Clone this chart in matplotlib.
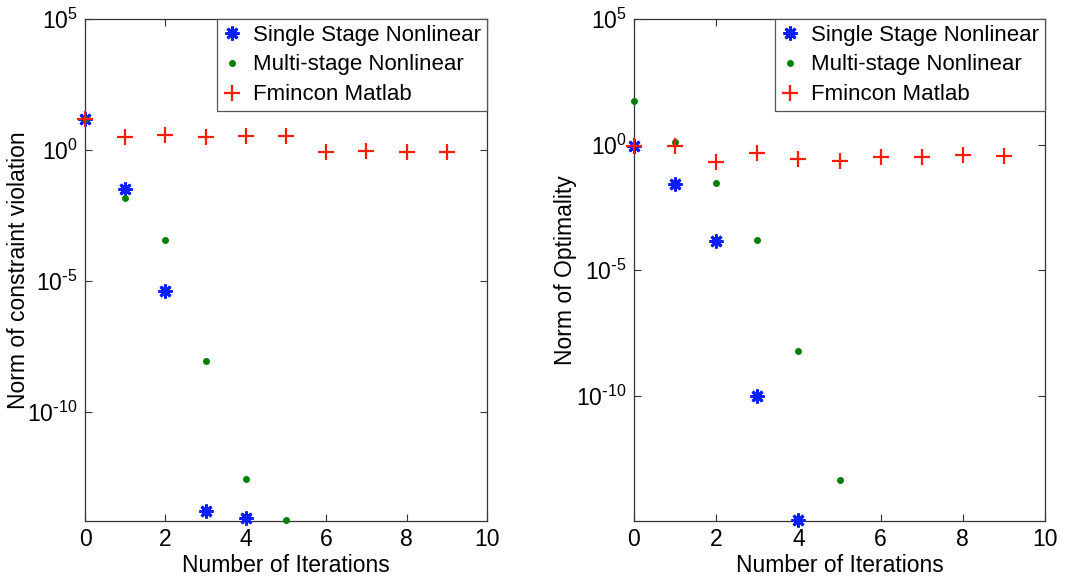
import matplotlib
matplotlib.use("Agg")
import matplotlib.pyplot as plt
import numpy as np

plt.rcParams['font.family'] = ['Liberation Sans', 'DejaVu Sans']
plt.rcParams['mathtext.default'] = 'regular'
plt.rcParams['font.size'] = 16.5

# left panel: norm of constraint violation (log10 values)
it_single_c = [0, 1, 2, 3, 4]
single_c = [1.19, -1.49, -5.36, -13.75, -14.02]
it_multi_c = [0, 1, 2, 3, 4, 5]
multi_c = [1.19, -1.81, -3.42, -8.03, -12.56, -14.13]
it_fmin_c = [0, 1, 2, 3, 4, 5, 6, 7, 8, 9]
fmin_c = [1.19, 0.51, 0.56, 0.51, 0.53, 0.53, -0.08, -0.04, -0.06, -0.06]

# right panel: norm of optimality
it_single_o = [0, 1, 2, 3, 4]
single_o = [-0.07, -1.58, -3.85, -10.02, -14.97]
it_multi_o = [0, 1, 2, 3, 4, 5]
multi_o = [1.73, 0.10, -1.53, -3.81, -8.21, -13.35]
it_fmin_o = [0, 1, 2, 3, 4, 5, 6, 7, 8, 9]
fmin_o = [-0.07, -0.04, -0.69, -0.33, -0.57, -0.64, -0.50, -0.50, -0.43, -0.47]

labels = ['Single Stage Nonlinear', 'Multi-stage Nonlinear', 'Fmincon Matlab']
yticks = [1e-10, 1e-5, 1e0, 1e5]
ytick_labels = [r'$10^{\text{-}10}$', r'$10^{\text{-}5}$', '$10^{0}$', '$10^{5}$']

fig = plt.figure(figsize=(10.69, 5.84), dpi=100)
ax1 = fig.add_axes([85/1069, 1 - 521/584, (487-85)/1069, (521-19)/584])
ax2 = fig.add_axes([634/1069, 1 - 521/584, (1045-634)/1069, (521-19)/584])

asterisk = (8, 2, 0)

def draw(ax, xs, ys, xm, ym, xf, yf, ylo, ylabel, ylab_x):
    ax.plot(xs, 10**np.array(ys), ls='none', marker=asterisk, ms=10, mew=2,
            color='#0a1eff', label=labels[0], clip_on=False, zorder=3)
    ax.plot(xm, 10**np.array(ym), ls='none', marker='o', ms=5, mew=0,
            color='#008000', label=labels[1], clip_on=False, zorder=3)
    ax.plot(xf, 10**np.array(yf), ls='none', marker='+', ms=11, mew=1.6,
            color='#ff1a00', label=labels[2], clip_on=False, zorder=4)
    ax.set_yscale('log')
    ax.set_xlim(0, 10)
    ax.set_ylim(ylo, 1e5)
    ax.set_xticks(range(0, 11, 2))
    ax.set_yticks(yticks)
    ax.set_yticklabels(ytick_labels)
    ax.yaxis.set_minor_locator(matplotlib.ticker.NullLocator())
    ax.tick_params(direction='in', top=True, right=True, length=5,
                   color='#333333', labelsize=16.5, pad=5)
    for s in ax.spines.values():
        s.set_color('#333333')
        s.set_linewidth(0.9)
    ax.set_xlabel('Number of Iterations', fontsize=16.5, labelpad=2)
    ax.set_ylabel(ylabel, fontsize=16.5)
    ax.yaxis.set_label_coords(ylab_x, 0.5)
    leg = ax.legend(loc='upper right', borderaxespad=0, fancybox=False,
                    framealpha=1, edgecolor='#555555', handlelength=0.9,
                    handletextpad=0.5, borderpad=0.25, labelspacing=0.4,
                    fontsize=16)
    leg.get_frame().set_linewidth(0.9)

draw(ax1, it_single_c, single_c, it_multi_c, multi_c, it_fmin_c, fmin_c,
     10**-14.15, 'Norm of constraint violation', -0.137)
draw(ax2, it_single_o, single_o, it_multi_o, multi_o, it_fmin_o, fmin_o,
     1e-15, 'Norm of Optimality', -0.139)

fig.savefig('out.png', dpi=100)
